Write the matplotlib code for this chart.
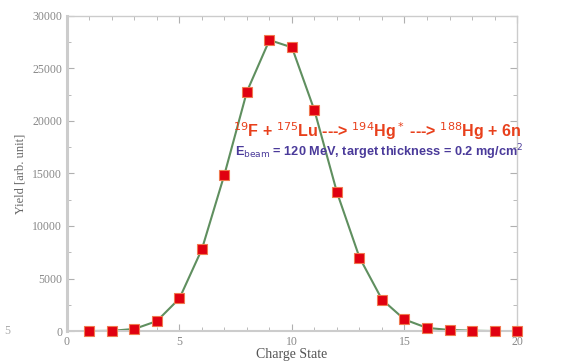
import matplotlib.pyplot as plt
from matplotlib.ticker import MultipleLocator

# charge state distribution
charge = [1, 2, 3, 4, 5, 6, 7, 8, 9, 10, 11, 12, 13, 14, 15, 16, 17, 18, 19, 20]
yield_ = [0, 20, 200, 950, 3100, 7800, 14900, 22800, 27700, 27000,
          21000, 13200, 7000, 3000, 1100, 300, 100, 30, 0, 0]

fig = plt.figure(figsize=(5.62, 3.61), dpi=100)
ax = fig.add_axes([0.119, 0.083, 0.801, 0.873])

ax.plot(charge, yield_, color='#5f8f5f', lw=1.5, zorder=2)
ax.plot(charge, yield_, ls='none', marker='s', ms=7, mfc='#e00010',
        mec='#f07a50', mew=0.8, zorder=3, clip_on=False)

ax.set_xlim(0, 20)
ax.set_ylim(0, 30000)
ax.xaxis.set_major_locator(MultipleLocator(5))
ax.xaxis.set_minor_locator(MultipleLocator(1))
ax.yaxis.set_major_locator(MultipleLocator(5000))
ax.yaxis.set_minor_locator(MultipleLocator(2500))
ax.tick_params(which='both', direction='in', top=True, right=True,
               colors='#b0b0b0', labelcolor='#888888', labelsize=8.5)
ax.tick_params(which='major', length=5)
ax.tick_params(which='minor', length=3)
for lab in ax.get_xticklabels() + ax.get_yticklabels():
    lab.set_family('Liberation Serif')

for s in ax.spines.values():
    s.set_color('#cccccc')
    s.set_linewidth(1)
ax.spines['left'].set_linewidth(2.2)
ax.spines['bottom'].set_linewidth(1.5)

ax.set_xlabel('Charge State', family='Liberation Serif', fontsize=10,
              color='#555555', labelpad=0)
ax.set_ylabel('Yield [arb. unit]', family='Liberation Serif', fontsize=9,
              color='#666666', labelpad=4)

ax.text(13.8, 19000, r'$^{19}$F + $^{175}$Lu ---> $^{194}$Hg$^*$ ---> $^{188}$Hg + 6n',
        ha='center', va='center', color='#e8401c', fontsize=11.5,
        fontweight='bold', family='Liberation Sans')
ax.text(13.9, 17000, r'E$_{\mathrm{beam}}$ = 120 MeV, target thickness = 0.2 mg/cm$^2$',
        ha='center', va='center', color='#4a3a9a', fontsize=9.2,
        fontweight='bold', family='Liberation Sans')

fig.text(0.008, 0.083, '5', ha='left', va='center', fontsize=8.5,
         color='#aaaaaa', family='Liberation Serif')

fig.savefig('out.png', dpi=100)
